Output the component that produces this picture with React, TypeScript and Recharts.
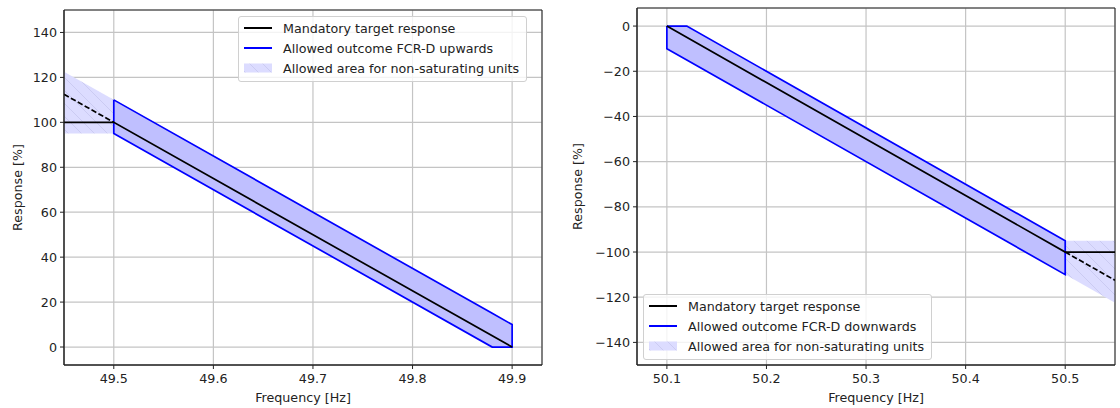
import { ComposedChart, Line, Area, XAxis, YAxis, CartesianGrid, ReferenceArea, Label } from "recharts"

const FONT = "'DejaVu Sans', sans-serif"
const TEXT = "#222"
const BLUE = "#0000ff"
const FS = 12.7

// FCR-D upwards (left panel)
const upTargetFreq = [49.45, 49.5, 49.9]
const upTargetResp = [100, 100, 0]
const upDashFreq = [49.45, 49.5]
const upDashResp = [112.5, 100]
const upBandFreq = [49.5, 49.88, 49.9]
const upBandLow = [95, 0, 0]
const upBandHigh = [110, 15, 10]
const upNonSatFreq = [49.45, 49.5]
const upNonSatLow = [95, 95]
const upNonSatHigh = [122.5, 110]
const upXTicks = [49.5, 49.6, 49.7, 49.8, 49.9]
const upYTicks = [0, 20, 40, 60, 80, 100, 120, 140]
const upLegend = ["Mandatory target response", "Allowed outcome FCR-D upwards", "Allowed area for non-saturating units"]

// FCR-D downwards (right panel)
const downTargetFreq = [50.1, 50.5, 50.55]
const downTargetResp = [0, -100, -100]
const downDashFreq = [50.5, 50.55]
const downDashResp = [-100, -112.5]
const downBandFreq = [50.1, 50.12, 50.5]
const downBandLow = [-10, -15, -110]
const downBandHigh = [0, 0, -95]
const downNonSatFreq = [50.5, 50.55]
const downNonSatLow = [-110, -122.5]
const downNonSatHigh = [-95, -95]
const downXTicks = [50.1, 50.2, 50.3, 50.4, 50.5]
const downYTicks = [-140, -120, -100, -80, -60, -40, -20, 0]
const downLegend = ["Mandatory target response", "Allowed outcome FCR-D downwards", "Allowed area for non-saturating units"]

const pts = (xs: number[], ys: number[]) => xs.map((x, i) => ({ x, y: ys[i] }))
const rangePts = (xs: number[], lo: number[], hi: number[]) => xs.map((x, i) => ({ x, r: [lo[i], hi[i]] }))
const outline = (xs: number[], lo: number[], hi: number[]) => [
  ...xs.map((x, i) => ({ x, y: hi[i] })),
  ...xs.map((x, i) => ({ x, y: lo[i] })).reverse(),
  { x: xs[0], y: hi[0] },
]

const fmtY = (v: number) => (v < 0 ? "\u2212" + Math.abs(v) : String(v))

function HatchDef({ id }: { id: string }) {
  return (
    <pattern id={id} patternUnits="userSpaceOnUse" width={13} height={13}>
      <rect width={13} height={13} fill="#dcdcff" />
      <path d="M-1,-1 L14,14 M-7.5,5.5 L7.5,20.5 M5.5,-7.5 L20.5,7.5" stroke="#cbcbf2" strokeWidth={1} />
    </pattern>
  )
}

function LegendBox({ items, style }: { items: string[]; style: React.CSSProperties }) {
  return (
    <div
      style={{
        position: "absolute",
        background: "rgba(255,255,255,0.8)",
        border: "1px solid #d0d0d0",
        borderRadius: 3,
        padding: "1px 7px 3px 5px",
        fontFamily: FONT,
        fontSize: FS,
        color: TEXT,
        ...style,
      }}
    >
      {items.map((t, i) => (
        <div key={t} style={{ display: "flex", alignItems: "center", height: 20, whiteSpace: "nowrap" }}>
          <svg width={28} height={20} style={{ marginRight: 11, flexShrink: 0 }}>
            {i === 2 ? (
              <>
                <defs>
                  <HatchDef id={"lg" + t.length + i} />
                </defs>
                <rect x={0} y={5.5} width={28} height={9} fill={`url(#lg${t.length}${i})`} />
              </>
            ) : (
              <line x1={0} x2={28} y1={10} y2={10} stroke={i === 0 ? "#000" : BLUE} strokeWidth={2} />
            )}
          </svg>
          <span>{t}</span>
        </div>
      ))}
    </div>
  )
}

type PanelProps = {
  id: string
  margin: { top: number; right: number; left: number; bottom: number }
  yWidth: number
  xDomain: [number, number]
  yDomain: [number, number]
  xTicks: number[]
  yTicks: number[]
  targetFreq: number[]
  targetResp: number[]
  dashFreq: number[]
  dashResp: number[]
  bandFreq: number[]
  bandLow: number[]
  bandHigh: number[]
  nonSatFreq: number[]
  nonSatLow: number[]
  nonSatHigh: number[]
  legend: string[]
  legendStyle: React.CSSProperties
}

function Panel(p: PanelProps) {
  const tick = { fill: TEXT, fontSize: FS, fontFamily: FONT }
  return (
    <div style={{ position: "relative", width: 560, height: 408 }}>
      <ComposedChart width={560} height={408} margin={p.margin}>
        <defs>
          <HatchDef id={p.id + "hatch"} />
        </defs>
        <CartesianGrid stroke="#c4c4c4" strokeWidth={1.2} />
        <XAxis
          dataKey="x"
          type="number"
          domain={p.xDomain}
          ticks={p.xTicks}
          allowDataOverflow
          tickFormatter={(v: number) => v.toFixed(1)}
          tick={tick}
          tickSize={4}
          tickMargin={5}
          height={30}
          axisLine={{ stroke: "#222" }}
          tickLine={{ stroke: "#222" }}
        >
          <Label
            content={({ viewBox }: any) => (
              <text
                x={viewBox.x + viewBox.width / 2}
                y={viewBox.y + 32}
                textAnchor="middle"
                dominantBaseline="central"
                fontFamily={FONT}
                fontSize={FS}
                fill={TEXT}
              >
                Frequency [Hz]
              </text>
            )}
          />
        </XAxis>
        <YAxis
          type="number"
          domain={p.yDomain}
          ticks={p.yTicks}
          allowDataOverflow
          tickFormatter={fmtY}
          tick={tick}
          tickSize={4}
          tickMargin={3}
          width={p.yWidth}
          axisLine={{ stroke: "#222" }}
          tickLine={{ stroke: "#222" }}
        >
          <Label
            content={({ viewBox }: any) => {
              const cx = viewBox.x + 17
              const cy = viewBox.y + viewBox.height / 2
              return (
                <text
                  x={cx}
                  y={cy}
                  transform={`rotate(-90, ${cx}, ${cy})`}
                  textAnchor="middle"
                  dominantBaseline="central"
                  fontFamily={FONT}
                  fontSize={FS}
                  fill={TEXT}
                >
                  Response [%]
                </text>
              )
            }}
          />
        </YAxis>
        <Area
          data={rangePts(p.nonSatFreq, p.nonSatLow, p.nonSatHigh)}
          dataKey="r"
          type="linear"
          stroke="none"
          fill={`url(#${p.id}hatch)`}
          fillOpacity={1}
          isAnimationActive={false}
          activeDot={false}
        />
        <Area
          data={rangePts(p.bandFreq, p.bandLow, p.bandHigh)}
          dataKey="r"
          type="linear"
          stroke="none"
          fill="#bfbfff"
          fillOpacity={1}
          isAnimationActive={false}
          activeDot={false}
        />
        <Line
          data={outline(p.bandFreq, p.bandLow, p.bandHigh)}
          dataKey="y"
          type="linear"
          stroke={BLUE}
          strokeWidth={1.7}
          dot={false}
          activeDot={false}
          isAnimationActive={false}
        />
        <Line
          data={pts(p.targetFreq, p.targetResp)}
          dataKey="y"
          type="linear"
          stroke="#000"
          strokeWidth={1.7}
          dot={false}
          activeDot={false}
          isAnimationActive={false}
        />
        <Line
          data={pts(p.dashFreq, p.dashResp)}
          dataKey="y"
          type="linear"
          stroke="#000"
          strokeWidth={1.7}
          strokeDasharray="5.5 2.4"
          dot={false}
          activeDot={false}
          isAnimationActive={false}
        />
        <ReferenceArea
          x1={p.xDomain[0]}
          x2={p.xDomain[1]}
          y1={p.yDomain[0]}
          y2={p.yDomain[1]}
          fill="none"
          stroke="#222"
          strokeWidth={1}
          ifOverflow="visible"
        />
      </ComposedChart>
      <LegendBox items={p.legend} style={p.legendStyle} />
    </div>
  )
}

export default function App() {
  return (
    <div style={{ position: "absolute", left: 0, top: 0, width: 1120, height: 408, background: "#fff", display: "flex" }}>
      <Panel
        id="up"
        margin={{ top: 10, right: 18, left: 0, bottom: 13 }}
        yWidth={64}
        xDomain={[49.45, 49.93]}
        yDomain={[-8, 150]}
        xTicks={upXTicks}
        yTicks={upYTicks}
        targetFreq={upTargetFreq}
        targetResp={upTargetResp}
        dashFreq={upDashFreq}
        dashResp={upDashResp}
        bandFreq={upBandFreq}
        bandLow={upBandLow}
        bandHigh={upBandHigh}
        nonSatFreq={upNonSatFreq}
        nonSatLow={upNonSatLow}
        nonSatHigh={upNonSatHigh}
        legend={upLegend}
        legendStyle={{ left: 238, top: 16 }}
      />
      <Panel
        id="down"
        margin={{ top: 8, right: 5, left: 0, bottom: 13 }}
        yWidth={77}
        xDomain={[50.07, 50.55]}
        yDomain={[-150, 8]}
        xTicks={downXTicks}
        yTicks={downYTicks}
        targetFreq={downTargetFreq}
        targetResp={downTargetResp}
        dashFreq={downDashFreq}
        dashResp={downDashResp}
        bandFreq={downBandFreq}
        bandLow={downBandLow}
        bandHigh={downBandHigh}
        nonSatFreq={downNonSatFreq}
        nonSatLow={downNonSatLow}
        nonSatHigh={downNonSatHigh}
        legend={downLegend}
        legendStyle={{ left: 83, top: 294 }}
      />
    </div>
  )
}
